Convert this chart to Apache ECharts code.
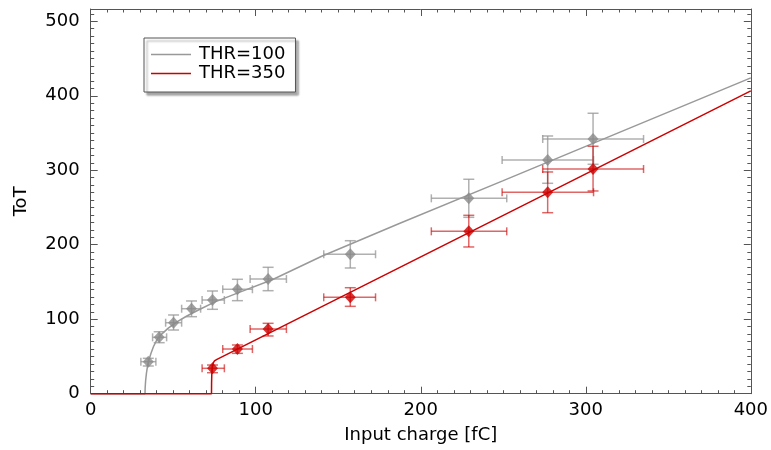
<!DOCTYPE html>
<html>
<head>
<meta charset="utf-8">
<script src="https://cdn.jsdelivr.net/npm/echarts@6/dist/echarts.min.js"></script>
<style>
html,body{margin:0;padding:0;background:#fff;}
#chart{width:771px;height:450px;}
</style>
</head>
<body>
<div id="chart"></div>
<script>
// ---- data ----
const charge   = [34.9, 41.5, 50.2, 61.1, 73.8, 88.9, 107.5, 157.3, 229.1, 276.9, 304.4];
const chargeLo = [30.4, 37.5, 45.4, 55.1, 67.5, 80.0, 96.6, 141.2, 206.4, 249.3, 273.9];
const chargeHi = [39.5, 46.0, 55.1, 66.6, 81.0, 98.0, 118.6, 172.6, 252.1, 304.7, 335.0];

const totThr100   = [43.0, 75.7, 95.3, 114.1, 125.8, 140.2, 154.0, 187.2, 262.3, 313.8, 342.0];
const totThr100Lo = [37.2, 68.5, 85.5, 103.4, 113.3, 124.9, 138.3, 168.8, 236.8, 282.5, 308.0];
const totThr100Hi = [47.5, 83.2, 105.7, 124.5, 137.9, 153.6, 169.7, 205.4, 287.9, 346.0, 376.5];

const redStart = 4; // THR=350 points start at the 5th charge value
const totThr350   = [34.1, 60.0, 86.9, 129.4, 218.0, 270.4, 301.7];
const totThr350Lo = [28.2, 54.2, 77.5, 117.3, 197.0, 243.0, 272.2];
const totThr350Hi = [38.5, 65.4, 94.5, 142.3, 239.5, 297.7, 332.2];

const fitThr100X = [0, 32.9, 33.0, 33.3, 33.8, 34.5, 35.5, 36.5, 38, 40, 43, 47, 52, 58, 65, 75, 90, 110, 140, 187, 250, 320, 400];
const fitThr100Y = [0, 0, 8, 18, 28, 38, 47, 54, 63, 72, 80, 88, 96, 104, 112, 123, 136, 153, 184.5, 228.5, 286, 350.5, 424];

const fitThr350X = [0, 73.2, 73.25, 73.4, 73.7, 74.2, 75, 76.5, 100, 150, 200, 300, 400];
const fitThr350Y = [0, 0, 15, 28, 36, 41, 44, 46, 72.2, 127.9, 183.7, 295.1, 406.6];

const xTicks = [0, 100, 200, 300, 400];
const yTicks = [0, 100, 200, 300, 400, 500];
const seriesNames = ['THR=100', 'THR=350'];
const axisTitles = {x: 'Input charge [fC]', y: 'ToT'};

// ---- build ----
const FONT = 'DejaVu Sans';
const AXIS_COLOR = '#555';
const GRAY_LINE = '#999999';
const GRAY_MARK = '#8a8a8a';
const GRAY_ERR = 'rgba(150,150,150,0.75)';
const RED = '#cc0000';
const RED_ERR = 'rgba(204,0,0,0.6)';

function zip(...arrs){ return arrs[0].map((_, i) => arrs.map(a => a[i])); }

const grayErrData = charge.map((c, i) => [c, totThr100[i], chargeLo[i], chargeHi[i], totThr100Lo[i], totThr100Hi[i]]);
const redErrData = totThr350.map((t, i) => [charge[i + redStart], t, chargeLo[i + redStart], chargeHi[i + redStart], totThr350Lo[i], totThr350Hi[i]]);

function errRender(color){
  return function(params, api){
    const x = api.value(0), y = api.value(1);
    const xl = api.value(2), xh = api.value(3), yl = api.value(4), yh = api.value(5);
    const pL = api.coord([xl, y]), pR = api.coord([xh, y]);
    const pB = api.coord([x, yl]), pT = api.coord([x, yh]);
    const cw = 5.5, ch = 4;
    const style = {stroke: color, lineWidth: 1.5, fill: null};
    const L = (x1,y1,x2,y2) => ({type:'line', shape:{x1,y1,x2,y2}, style});
    return {type:'group', children:[
      L(pL[0], pL[1], pR[0], pR[1]),
      L(pL[0], pL[1]-ch, pL[0], pL[1]+ch),
      L(pR[0], pR[1]-ch, pR[0], pR[1]+ch),
      L(pB[0], pB[1], pT[0], pT[1]),
      L(pB[0]-cw, pB[1], pB[0]+cw, pB[1]),
      L(pT[0]-cw, pT[1], pT[0]+cw, pT[1])
    ]};
  };
}

const tickCommon = {
  axisLine: {show: true, onZero: false, lineStyle: {color: AXIS_COLOR, width: 1}},
  axisTick: {show: true, inside: true, length: 7, lineStyle: {color: AXIS_COLOR, width: 1}},
  minorTick: {show: true, splitNumber: 10, length: 3.5, lineStyle: {color: AXIS_COLOR, width: 1}},
  splitLine: {show: false},
  minorSplitLine: {show: false}
};

const chart = echarts.init(document.getElementById('chart'), null, {renderer: 'canvas'});
chart.setOption({
  animation: false,
  backgroundColor: '#fff',
  textStyle: {fontFamily: FONT},
  grid: {left: 90.7, right: 19.3, top: 9, bottom: 56.3, containLabel: false},
  legend: {
    orient: 'vertical',
    left: 144, top: 38,
    padding: [7, 10, 9, 7],
    itemGap: 0,
    itemWidth: 40, itemHeight: 1.5,
    icon: 'rect',
    backgroundColor: '#fff',
    borderColor: '#555', borderWidth: 1,
    shadowColor: 'rgba(0,0,0,0.35)', shadowBlur: 2, shadowOffsetX: 3, shadowOffsetY: 3,
    textStyle: {fontFamily: FONT, fontSize: 18, color: '#000', lineHeight: 19, padding: [0,0,0,3]},
    data: seriesNames.map(n => ({name: n, icon: 'rect'}))
  },
  xAxis: [
    Object.assign({
      type: 'value', min: xTicks[0], max: xTicks[xTicks.length-1], interval: xTicks[1]-xTicks[0],
      position: 'bottom',
      name: axisTitles.x, nameLocation: 'middle', nameGap: 33,
      nameTextStyle: {fontFamily: FONT, fontSize: 18, color: '#000'},
      axisLabel: {fontFamily: FONT, fontSize: 18, color: '#000', margin: 8}
    }, tickCommon),
    Object.assign({
      type: 'value', min: xTicks[0], max: xTicks[xTicks.length-1], interval: xTicks[1]-xTicks[0],
      position: 'top', axisLabel: {show: false}
    }, tickCommon)
  ],
  yAxis: [
    Object.assign({
      type: 'value', min: yTicks[0], max: 516.5, interval: yTicks[1]-yTicks[0],
      position: 'left',
      name: axisTitles.y, nameLocation: 'middle', nameGap: 60, nameRotate: 90,
      nameTextStyle: {fontFamily: FONT, fontSize: 18, color: '#000'},
      axisLabel: {fontFamily: FONT, fontSize: 18, color: '#000', margin: 11,
        formatter: v => (yTicks.indexOf(v) >= 0 ? String(v) : '')}
    }, tickCommon),
    Object.assign({
      type: 'value', min: yTicks[0], max: 516.5, interval: yTicks[1]-yTicks[0],
      position: 'right', axisLabel: {show: false}
    }, tickCommon)
  ],
  series: [
    {type: 'custom', name: 'err100', renderItem: errRender(GRAY_ERR), data: grayErrData,
     encode: {x: [0,2,3], y: [1,4,5]}, z: 2, silent: true},
    {type: 'line', name: seriesNames[0], data: zip(fitThr100X, fitThr100Y), symbol: 'none', showSymbol: false,
     lineStyle: {color: GRAY_LINE, width: 1.5}, itemStyle: {color: GRAY_LINE}, clip: false, z: 3},
    {type: 'scatter', name: 'pts100', data: zip(charge, totThr100), symbol: 'diamond', symbolSize: [11, 12],
     itemStyle: {color: GRAY_MARK}, z: 4},
    {type: 'custom', name: 'err350', renderItem: errRender(RED_ERR), data: redErrData,
     encode: {x: [0,2,3], y: [1,4,5]}, z: 5, silent: true},
    {type: 'line', name: seriesNames[1], data: zip(fitThr350X, fitThr350Y), symbol: 'none', showSymbol: false,
     lineStyle: {color: RED, width: 1.5}, itemStyle: {color: RED}, clip: false, z: 6},
    {type: 'scatter', name: 'pts350', data: zip(charge.slice(redStart), totThr350), symbol: 'diamond', symbolSize: [11, 12],
     itemStyle: {color: RED}, z: 7}
  ]
});
</script>
</body>
</html>
